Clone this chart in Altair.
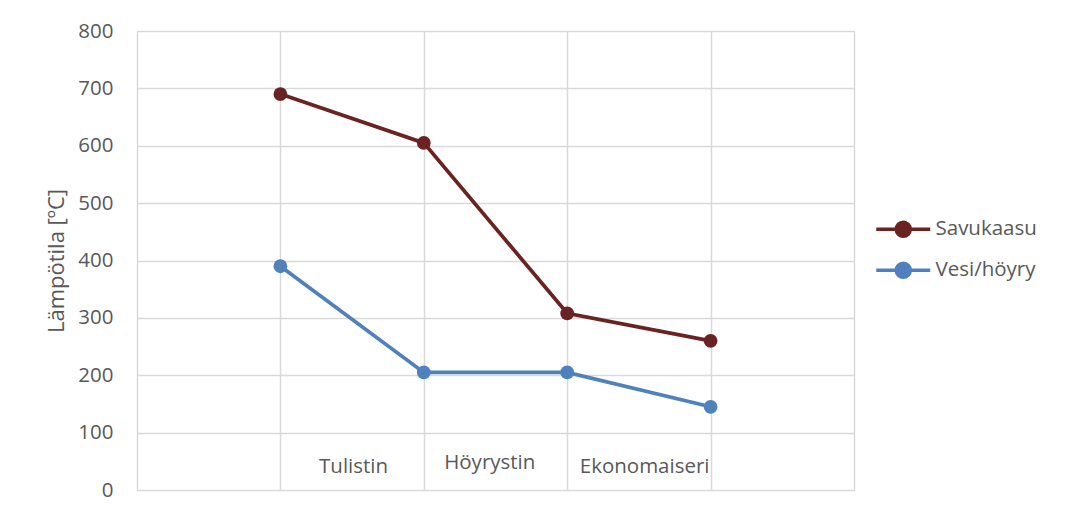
import altair as alt
import pandas as pd

positions = [1, 2, 3, 4]
savukaasu = [690, 605, 308, 260]
vesi_hoyry = [390, 205, 205, 145]
series_names = ["Savukaasu", "Vesi/höyry"]
series_colors = ["#6b2322", "#4f81bd"]

stage_labels = ["Tulistin", "Höyrystin", "Ekonomaiseri"]
stage_x = [1.51, 2.46, 3.54]
stage_y = [30, 37, 30]

y_ticks = [0, 100, 200, 300, 400, 500, 600, 700, 800]
x_grid = [0, 1, 2, 3, 4, 5]

rows = []
for p, v in zip(positions, savukaasu):
    rows.append({"x": p, "y": v, "series": series_names[0]})
for p, v in zip(positions, vesi_hoyry):
    rows.append({"x": p, "y": v, "series": series_names[1]})
df = pd.DataFrame(rows)

labels_df = pd.DataFrame({"x": stage_x, "y": stage_y, "label": stage_labels})

FONT = "Open Sans"
TXT = "#595959"
FS = 20.5

xscale = alt.Scale(domain=[0, 5], nice=False, zero=False)
yscale = alt.Scale(domain=[0, 800], nice=False)

legend_symbol = "M-5.4,0L5.4,0M-1.4,0A1.4,1.4 0 1,1 1.4,0A1.4,1.4 0 1,1 -1.4,0Z"

lines = alt.Chart(df).mark_line(
    strokeWidth=3.7,
    point=alt.OverlayMarkDef(filled=True, size=190, opacity=1),
).encode(
    x=alt.X("x:Q", scale=xscale,
            axis=alt.Axis(values=x_grid, labels=False, ticks=False, domain=False,
                          grid=True, gridColor="#d9d9d9", gridWidth=1.5, title=None)),
    y=alt.Y("y:Q", scale=yscale,
            axis=alt.Axis(values=y_ticks, ticks=False, domain=False, grid=True,
                          gridColor="#d9d9d9", gridWidth=1.5,
                          labelFont=FONT, labelFontSize=FS, labelColor=TXT,
                          labelPadding=24,
                          title="Lämpötila [ºC]", titleFont=FONT, titleFontSize=22,
                          titleColor=TXT, titleFontWeight="normal", titlePadding=9)),
    color=alt.Color("series:N",
                    scale=alt.Scale(domain=series_names, range=series_colors),
                    legend=alt.Legend(title=None, orient="none", legendX=756, legendY=188,
                                      symbolType=legend_symbol, symbolSize=100,
                                      symbolStrokeWidth=3.5,
                                      labelFont=FONT, labelFontSize=FS, labelColor=TXT,
                                      labelOffset=22, rowPadding=12)),
)

texts = alt.Chart(labels_df).mark_text(
    font=FONT, fontSize=FS, color=TXT, align="center", baseline="alphabetic"
).encode(
    x=alt.X("x:Q", scale=xscale),
    y=alt.Y("y:Q", scale=yscale),
    text="label:N",
)

chart = alt.layer(lines, texts).properties(
    width=717, height=459,
    autosize=alt.AutoSizeParams(type="none"),
    padding={"left": 129, "top": 23, "right": 210, "bottom": 12},
).configure_view(stroke=None).configure(background="white")

chart.save("out.html", embed_options={"renderer": "svg", "actions": False})
